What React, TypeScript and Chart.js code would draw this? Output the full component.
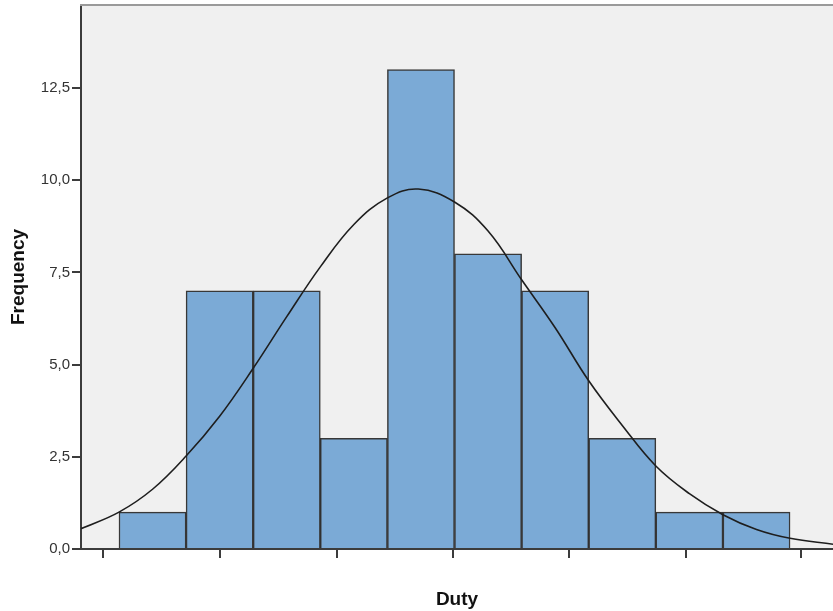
import React, { useEffect, useRef } from "react";
import { Chart, registerables } from "chart.js";

Chart.register(...registerables);

// Histogram bins (in bin-width units, bin k spans [k, k+1])
const binCenters = [0.5, 1.5, 2.5, 3.5, 4.5, 5.5, 6.5, 7.5, 8.5, 9.5];
const frequencies = [1, 7, 7, 3, 13, 8, 7, 3, 1, 1];

// Normal curve
const curveX = [-0.566, 0, 0.5, 1, 1.5, 2, 2.5, 3, 3.5, 4, 4.46, 5, 5.5, 6, 6.5, 7, 7.5, 8, 8.5, 9, 9.5, 10, 10.64];
const curveY = [0.55, 1.0, 1.62, 2.52, 3.6, 4.9, 6.3, 7.65, 8.8, 9.52, 9.76, 9.41, 8.62, 7.3, 6.0, 4.56, 3.35, 2.25, 1.5, 0.93, 0.53, 0.29, 0.13];

// Unlabelled x-axis tick positions
const xTicks = [-0.24, 1.5, 3.25, 4.98, 6.71, 8.45, 10.16];
const xMin = -0.566;
const xMax = 10.64;

const yMax = 14.75;
const yStep = 2.5;

const plotBg = {
  id: "plotBg",
  beforeDraw(chart: any) {
    const { ctx, chartArea } = chart;
    ctx.save();
    ctx.fillStyle = "#f0f0f0";
    ctx.fillRect(chartArea.left, chartArea.top, chartArea.right - chartArea.left, chartArea.bottom - chartArea.top);
    ctx.restore();
  },
  afterDraw(chart: any) {
    const { ctx, chartArea } = chart;
    ctx.save();
    ctx.strokeStyle = "#9a9a9a";
    ctx.lineWidth = 2;
    ctx.beginPath();
    ctx.moveTo(chartArea.left - 1, chartArea.top);
    ctx.lineTo(chartArea.right, chartArea.top);
    ctx.stroke();
    ctx.restore();
  },
};

const titleFont = { family: "'Liberation Sans', Arial, sans-serif", size: 19, weight: "bold" as const };

export default function App() {
  const ref = useRef<HTMLCanvasElement>(null);
  useEffect(() => {
    if (!ref.current) return;
    const chart = new Chart(ref.current, {
      type: "bar",
      data: {
        datasets: [
          {
            type: "line",
            data: curveX.map((x, i) => ({ x, y: curveY[i] })),
            borderColor: "#1e1e1e",
            borderWidth: 1.6,
            pointRadius: 0,
            fill: false,
            tension: 0.4,
            order: 0,
          } as any,
          {
            type: "bar",
            data: binCenters.map((x, i) => ({ x, y: frequencies[i] })),
            backgroundColor: "#7baad6",
            borderColor: "rgba(35,35,35,0.9)",
            borderWidth: 1.5,
            barPercentage: 1,
            categoryPercentage: 1,
            order: 1,
          } as any,
        ],
      },
      options: {
        animation: false,
        responsive: false,
        layout: { padding: { top: 5, right: 0, left: 0, bottom: 0 } },
        plugins: { legend: { display: false }, tooltip: { enabled: false } },
        scales: {
          x: {
            type: "linear",
            min: xMin,
            max: xMax,
            offset: false,
            afterBuildTicks: (scale: any) => {
              scale.ticks = xTicks.map((v) => ({ value: v }));
            },
            afterFit: (scale: any) => {
              scale.height = 62;
              scale.paddingLeft = 0;
              scale.paddingRight = 0;
            },
            ticks: { callback: () => "", font: { size: 1 } },
            grid: {
              offset: false,
              drawOnChartArea: false,
              drawTicks: true,
              tickLength: 9,
              color: "#3c3c3c",
              lineWidth: 2,
            },
            border: { color: "#3c3c3c", width: 2 },
            title: {
              display: true,
              text: "Duty",
              color: "#111",
              font: titleFont,
              padding: { top: 0, bottom: 0 },
            },
          },
          y: {
            type: "linear",
            min: 0,
            max: yMax,
            afterFit: (scale: any) => {
              scale.width = 81;
              scale.paddingTop = 0;
              scale.paddingBottom = 0;
            },
            ticks: {
              stepSize: yStep,
              includeBounds: false,
              padding: 2,
              color: "#333",
              font: { family: "'Liberation Sans', Arial, sans-serif", size: 15 },
              callback: (v: any) => Number(v).toFixed(1).replace(".", ","),
            },
            grid: {
              drawOnChartArea: false,
              drawTicks: true,
              tickLength: 9,
              color: "#3c3c3c",
              lineWidth: 2,
            },
            border: { color: "#3c3c3c", width: 2 },
            title: {
              display: true,
              text: "Frequency",
              color: "#111",
              font: titleFont,
              padding: { top: 7.5, bottom: 0 },
            },
          },
        },
      },
      plugins: [plotBg],
    });
    return () => chart.destroy();
  }, []);
  return (
    <div style={{ position: "absolute", left: 0, top: 0, width: 833, height: 611, background: "#fff" }}>
      <canvas ref={ref} width={833} height={611} style={{ display: "block" }} />
    </div>
  );
}
